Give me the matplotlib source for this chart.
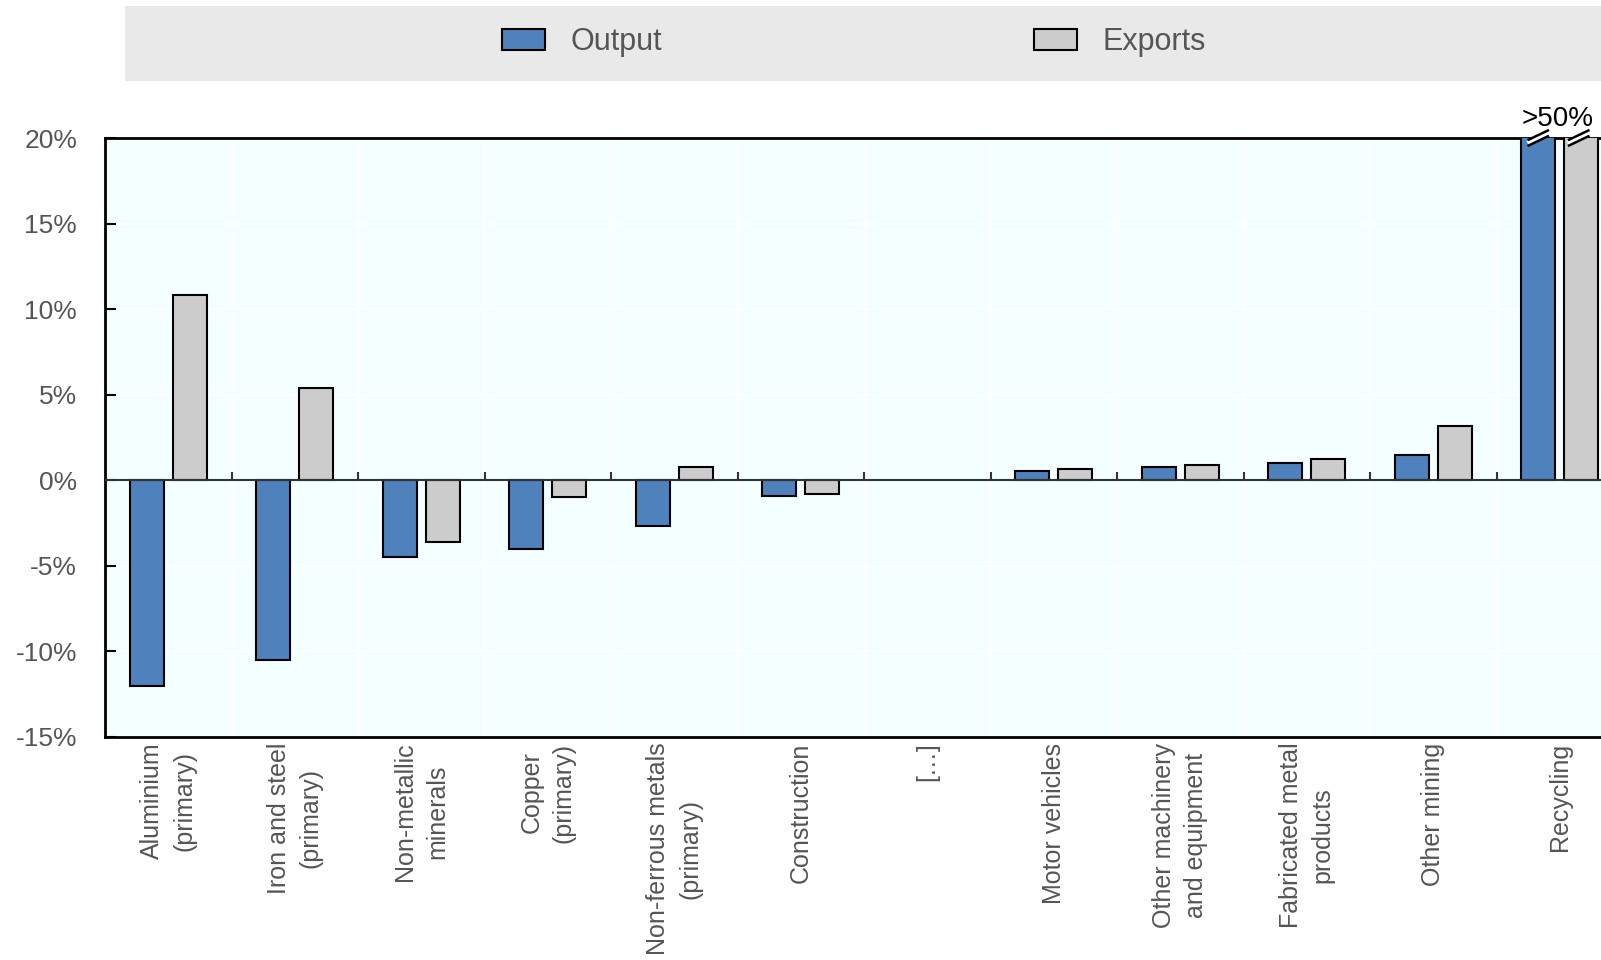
import matplotlib
matplotlib.use("Agg")
import matplotlib.pyplot as plt
from matplotlib.patches import Patch, Rectangle
import numpy as np

plt.rcParams['font.family'] = ['Liberation Sans', 'DejaVu Sans']

categories = ['Aluminium\n(primary)', 'Iron and steel\n(primary)', 'Non-metallic\nminerals',
              'Copper\n(primary)', 'Non-ferrous metals\n(primary)', 'Construction', '[…]',
              'Motor vehicles', 'Other machinery\nand equipment', 'Fabricated metal\nproducts',
              'Other mining', 'Recycling']
output = [-12.0, -10.5, -4.5, -4.0, -2.7, -0.9, np.nan, 0.55, 0.8, 1.0, 1.5, 52.0]
exports = [10.8, 5.4, -3.6, -1.0, 0.8, -0.8, np.nan, 0.65, 0.9, 1.25, 3.2, 52.0]
yticks = [-15, -10, -5, 0, 5, 10, 15, 20]

blue = '#4F81BD'
grey = '#CCCCCC'
txt = '#555555'

W, H = 1601, 960
fig = plt.figure(figsize=(W / 100, H / 100), dpi=100)
ax = fig.add_axes([105 / W, 1 - 737 / H, 1 - 105 / W, (737 - 138) / H])
ax.set_facecolor('#F4FFFF')

x = np.arange(len(categories))
bw = 0.27
ax.bar(x - 0.17, output, bw, color=blue, edgecolor='black', linewidth=1.5, zorder=3)
ax.bar(x + 0.17, exports, bw, color=grey, edgecolor='black', linewidth=1.5, zorder=3)

ax.set_ylim(-15, 20)
ax.set_xlim(-0.5, (W - 105) / 126.5 - 0.5)

# grid
for b in np.arange(0.5, len(categories) - 0.5, 1):
    ax.axvline(b, color='white', linewidth=1.5, zorder=1)
for t in yticks[1:-1]:
    ax.axhline(t, color='white', linewidth=1.5, zorder=1)

ax.axhline(0, color='#333333', linewidth=1.5, zorder=4)
ax.vlines(np.arange(0.5, len(categories) - 0.5, 1), 0, 0.5, color='#333333', linewidth=1.5, zorder=4)

ax.set_yticks(yticks)
ax.set_yticklabels(['%d%%' % t for t in yticks], fontsize=19, color=txt)
ax.tick_params(axis='y', direction='in', length=8, width=1.5, pad=20)
ax.set_xticks(x)
ax.set_xticklabels(categories, rotation=90, fontsize=18, color=txt, va='top', ha='center',
                   multialignment='center', linespacing=1.4)
ax.tick_params(axis='x', length=0, pad=4)

for s in ['left', 'top', 'bottom']:
    ax.spines[s].set_linewidth(2)
ax.spines['right'].set_visible(False)

# break marks on recycling bars
for xc in [x[-1] - 0.17, x[-1] + 0.15]:
    ax.plot([xc - 0.085, xc + 0.085], [19.7, 20.3], color='white', linewidth=3.5,
            zorder=6, clip_on=False, solid_capstyle='butt')
    for dy in [-0.17, 0.17]:
        ax.plot([xc - 0.085, xc + 0.085], [19.7 + dy, 20.3 + dy], color='black', linewidth=1.8,
                zorder=7, clip_on=False, solid_capstyle='butt')
ax.text(x[-1] - 0.02, 20.35, '>50%', ha='center', va='bottom', fontsize=20, color='black', zorder=8)

# legend strip
fig.patches.append(Rectangle((125 / W, 1 - 81 / H), 1 - 125 / W, 75 / H, transform=fig.transFigure,
                             facecolor='#E9E9E9', edgecolor='none', zorder=0))
fig.legend(handles=[Patch(facecolor=blue, edgecolor='black', linewidth=1.5, label='Output')],
           loc='center left', bbox_to_anchor=(502 / W, 1 - 42 / H), frameon=False, fontsize=22,
           borderpad=0, borderaxespad=0, handlelength=1.4, handleheight=0.7, handletextpad=0.85,
           labelcolor=txt)
fig.legend(handles=[Patch(facecolor=grey, edgecolor='black', linewidth=1.5, label='Exports')],
           loc='center left', bbox_to_anchor=(1034 / W, 1 - 42 / H), frameon=False, fontsize=22,
           borderpad=0, borderaxespad=0, handlelength=1.4, handleheight=0.7, handletextpad=0.85,
           labelcolor=txt)

fig.savefig('out.png', dpi=100)
